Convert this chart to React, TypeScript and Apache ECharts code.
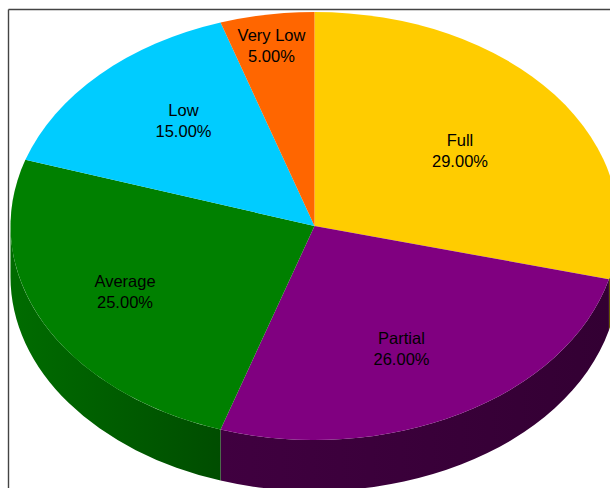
import React, { useEffect, useRef } from "react";
import * as echarts from "echarts";

const categories = ["Full", "Partial", "Average", "Low", "Very Low"];
const shares = [29, 26, 25, 15, 5];
const topColors = ["#ffcc00", "#800080", "#008000", "#00ccff", "#ff6600"];
const wallColors = [
  ["#665200", "#665200"],
  ["#330033", "#400040"],
  ["#004d00", "#006c00"],
  ["#005266", "#005266"],
  ["#662900", "#662900"],
];

const W = 610, H = 488;
const CX = 314.5, CY = 226, RX = 304, RY = 214, DEPTH = 51;
const labelSpots = [[460, 150], [401.5, 348], [125, 291.5], [183.5, 120.5], [271.5, 45.5]];

const pt = (deg: number, dy = 0) => {
  const t = (deg * Math.PI) / 180;
  return [CX + RX * Math.sin(t), CY - RY * Math.cos(t) + dy];
};
const total = shares.reduce((a, b) => a + b, 0);
const startDeg = (i: number) => (shares.slice(0, i).reduce((a, b) => a + b, 0) / total) * 360;

function sliceD(a: number, b: number) {
  const [x1, y1] = pt(a);
  const [x2, y2] = pt(b);
  return `M${CX} ${CY}L${x1} ${y1}A${RX} ${RY} 0 ${b - a > 180 ? 1 : 0} 1 ${x2} ${y2}Z`;
}
function wallD(a: number, b: number) {
  const [x1, y1] = pt(a);
  const [x2, y2] = pt(b);
  const [x3, y3] = pt(b, DEPTH);
  const [x4, y4] = pt(a, DEPTH);
  return `M${x1} ${y1}A${RX} ${RY} 0 0 1 ${x2} ${y2}L${x3} ${y3}A${RX} ${RY} 0 0 0 ${x4} ${y4}Z`;
}

export default function App() {
  const ref = useRef<HTMLDivElement>(null);
  useEffect(() => {
    document.body.style.margin = "0";
    const chart = echarts.init(ref.current!, undefined, { renderer: "svg" });
    const data = shares.map((v, i) => [i, v]);
    chart.setOption({
      animation: false,
      backgroundColor: "#ffffff",
      graphic: [
        { type: "line", silent: true, z: 0, shape: { x1: 8.5, y1: 9.5, x2: W, y2: 9.5 }, style: { stroke: "#444444", lineWidth: 1.4 } },
        { type: "line", silent: true, z: 0, shape: { x1: 8.5, y1: 9.5, x2: 8.5, y2: H }, style: { stroke: "#444444", lineWidth: 1.4 } },
      ],
      series: [
        {
          type: "custom",
          coordinateSystem: "none",
          silent: true,
          z: 2,
          data,
          renderItem: (_: any, api: any) => {
            const i = api.value(0);
            const a = Math.max(startDeg(i), 90);
            const b = Math.min(startDeg(i) + (api.value(1) / total) * 360, 270);
            if (b <= a) return { type: "group", children: [] };
            return {
              type: "path",
              shape: { pathData: wallD(a, b) },
              style: {
                fill: new echarts.graphic.LinearGradient(0, 0, 1, 0, [
                  { offset: 0, color: wallColors[i][1] },
                  { offset: 1, color: wallColors[i][0] },
                ]),
              },
            };
          },
        },
        {
          type: "custom",
          coordinateSystem: "none",
          silent: true,
          z: 3,
          data,
          renderItem: (_: any, api: any) => {
            const i = api.value(0);
            const a = startDeg(i);
            const b = a + (api.value(1) / total) * 360;
            return {
              type: "group",
              children: [
                { type: "path", shape: { pathData: sliceD(a, b) }, style: { fill: topColors[i] } },
                {
                  type: "text",
                  x: labelSpots[i][0],
                  y: labelSpots[i][1],
                  style: {
                    text: `${categories[i]}\n${api.value(1).toFixed(2)}%`,
                    fill: "#000000",
                    font: "16.5px 'Liberation Sans', Arial, sans-serif",
                    lineHeight: 21,
                    align: "center",
                    verticalAlign: "middle",
                  },
                },
              ],
            };
          },
        },
      ],
    });
    return () => chart.dispose();
  }, []);
  return <div ref={ref} style={{ position: "fixed", left: 0, top: 0, width: W, height: H, overflow: "hidden" }} />;
}
